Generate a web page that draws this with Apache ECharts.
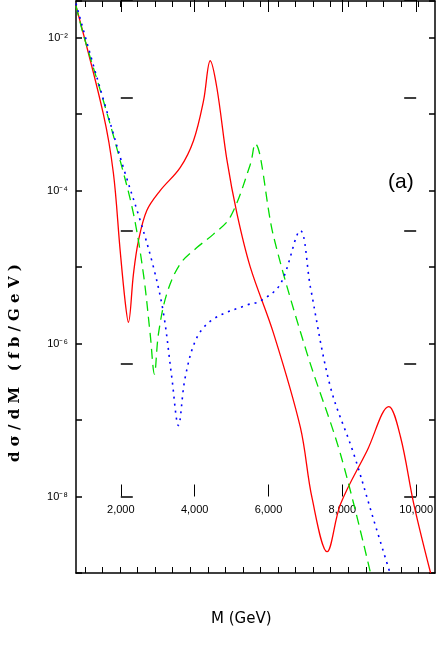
<!DOCTYPE html>
<html><head><meta charset="utf-8">
<script src="https://cdn.jsdelivr.net/npm/echarts@6/dist/echarts.min.js"></script>
<style>html,body{margin:0;background:#fff}#c{width:436px;height:654px}</style>
</head><body><div id="c"></div>
<script>
// M (GeV) and dσ/dM (fb/GeV)
const redM = [1000,1610,1833,1982,2094,2168,2280,2391,2578,2875,3321,3618,3842,3991,4140,4364,4587,4884,5404,6000,6261,6596,6893,7489,7971,8232,8529,8902];
const redV = [2.6e-2,1.0e-3,1.7e-4,1.7e-5,3.6e-6,1.9e-6,8.1e-6,2.2e-5,5.5e-5,1.0e-4,2.0e-4,4.5e-4,1.5e-3,5.0e-3,2.2e-3,2.5e-4,5.0e-5,1.0e-5,1.35e-6,8.0e-8,9.5e-9,1.9e-9,7.9e-9,4.0e-8,1.5e-7,6.0e-8,7.9e-9,1.0e-9];
const greenM = [1000,1164,1610,1982,2280,2503,2652,2748,2838,3024,3321,3694,4065,4437,4884,4990,5404,6150,6893,7563];
const greenV = [2.6e-2,1.1e-2,1.5e-3,2.5e-4,5.0e-5,8.1e-6,1.35e-6,4.0e-7,1.35e-6,4.5e-6,1.1e-5,1.8e-5,2.7e-5,4.5e-5,2.2e-4,4.1e-4,2.5e-5,7.4e-7,3.6e-8,1.0e-9];
const blueM = [1000,1313,1685,2056,2429,2726,2949,3135,3283,3433,3694,4065,4810,5107,5554,6000,6223,6670,7190,7636,7998];
const blueV = [2.8e-2,6.2e-3,1.1e-3,2.0e-4,4.1e-5,1.0e-5,2.5e-6,3.6e-7,8.5e-8,3.6e-7,1.2e-6,2.1e-6,3.2e-6,3.6e-6,6.0e-6,3.0e-5,5.5e-6,2.7e-7,3.6e-8,4.9e-9,1.0e-9];

const lg = (m, v) => m.map((x, i) => [x, Math.log10(v[i])]);
const sup = {'-':'⁻','0':'⁰','1':'¹','2':'²','3':'³','4':'⁴','5':'⁵','6':'⁶','7':'⁷','8':'⁸','9':'⁹'};
const ylab = v => '10' + String(v).split('').map(c => sup[c]).join('');

const PX = 44.8, PY = 76.5;   // px per 1000 GeV, px per decade
const line = {lineStyle: {color: '#000', width: 1.5}};
const font = {color: '#000', fontSize: 11, fontFamily: 'Liberation Sans'};

// helper axes on shifted grids so ticks land on 400 / 2000 GeV and even decades
function xa(grid, pos, min, step, len, labels, showLine) {
  return {type: 'value', gridIndex: grid, position: pos, min: min, max: min + 8000, interval: step,
    axisLine: {show: showLine, ...line}, splitLine: {show: false},
    axisTick: {show: len > 0, inside: true, length: len, lineStyle: {color: '#000'}},
    axisLabel: labels ? {show: true, ...font} : {show: false}};
}
function ya(grid, pos, min, max, step, len, labels, showLine) {
  return {type: 'value', gridIndex: grid, position: pos, min: min, max: max, interval: step,
    axisLine: {show: showLine, ...line}, splitLine: {show: false},
    axisTick: {show: true, inside: true, length: len, lineStyle: {color: '#000', width: 1.5}},
    axisLabel: labels ? {show: true, ...font, formatter: v => (Math.abs(v) % 2 === 0 ? ylab(v) : '')} : {show: false}};
}

const chart = echarts.init(document.getElementById('c'));
chart.setOption({
  animation: false,
  grid: [
    {left: 76, right: 1, top: 1, bottom: 81},
    {left: 76 + 0.2 * PX, right: 1 - 0.2 * PX, top: 1, bottom: 81},
    {left: 76 + PX, right: 1 - PX, top: 1 - PY, bottom: 81 + PY}
  ],
  xAxis: [xa(0, 'bottom', 1000, 1000, 0, false, true),
          xa(1, 'bottom', 1200, 400, 6, false, false),
          xa(2, 'bottom', 2000, 2000, 12, true, false),
          xa(0, 'top', 1000, 1000, 0, false, true),
          xa(1, 'top', 1200, 400, 6, false, false),
          xa(2, 'top', 2000, 2000, 12, false, false)],
  yAxis: [ya(0, 'left', -9, -1.52, 1, 6, true, true),
          ya(1, 'left', -9, -1.52, 1, 0.01, false, false),
          ya(2, 'left', -8, -0.52, 2, 12, false, false),
          ya(0, 'right', -9, -1.52, 1, 6, false, true),
          ya(2, 'right', -8, -0.52, 2, 12, false, false)],
  graphic: [
    {type: 'text', left: 211, top: 612, style: {text: 'M (GeV)', font: '15px "DejaVu Sans"', fill: '#000'}},
    {type: 'text', x: 8, y: 462, rotation: Math.PI / 2,
     style: {text: 'd \u03c3 / d M   ( f b / G e V )', font: 'bold 15px "DejaVu Serif"', fill: '#000'}},
    {type: 'text', left: 388, top: 172, style: {text: '(a)', font: '21px "Liberation Sans Narrow", "Liberation Sans"', fill: '#000'}}
  ],
  series: [
    {type: 'line', xAxisIndex: 0, yAxisIndex: 0, data: lg(redM, redV), smooth: 0.35, symbol: 'none', lineStyle: {color: '#ff0000', width: 1.3}},
    {type: 'line', xAxisIndex: 0, yAxisIndex: 0, data: lg(greenM, greenV), smooth: 0.35, symbol: 'none', lineStyle: {color: '#00dd00', width: 1.3, type: [10, 6]}},
    {type: 'line', xAxisIndex: 0, yAxisIndex: 0, data: lg(blueM, blueV), smooth: 0.35, symbol: 'none', lineStyle: {color: '#0000ff', width: 1.6, type: [2, 5]}}
  ]
});
</script></body></html>
